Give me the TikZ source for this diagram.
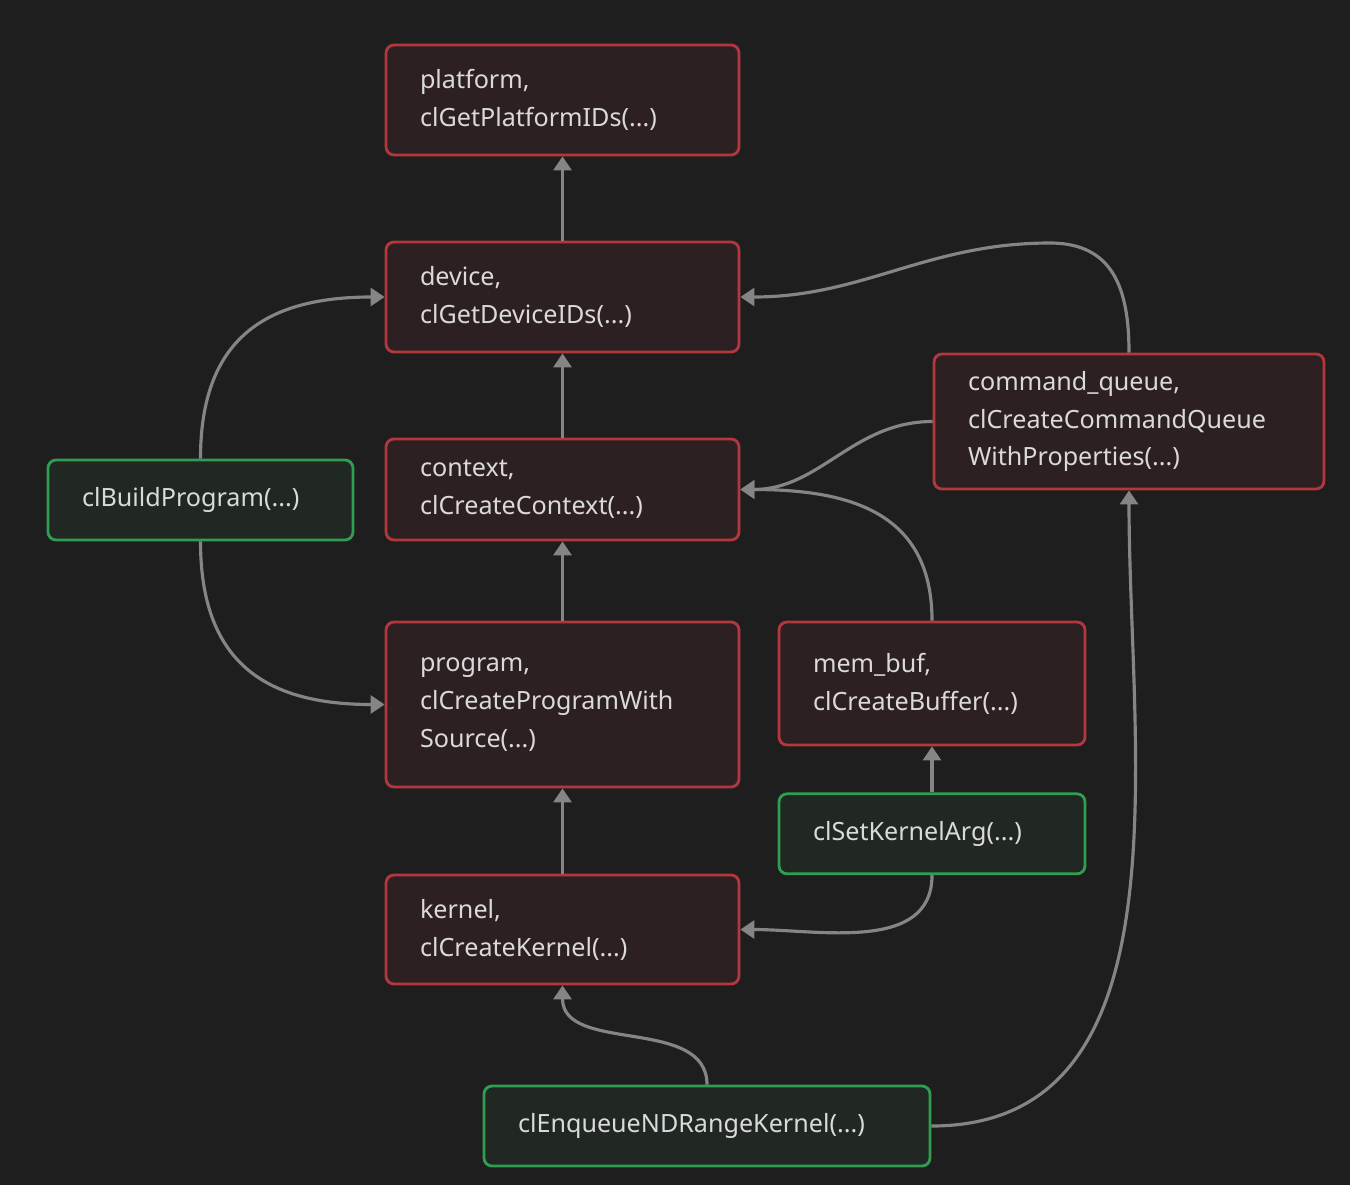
\documentclass[tikz,border=0pt]{standalone}
\usepackage{fontspec}
\setmainfont{Noto Sans}
\usetikzlibrary{positioning,arrows.meta}
\definecolor{canvasBg}{HTML}{1E1E1E}
\definecolor{objFill}{HTML}{2D2022}
\definecolor{objLine}{HTML}{B5373D}
\definecolor{callFill}{HTML}{212823}
\definecolor{callLine}{HTML}{2F9E50}
\definecolor{labelText}{HTML}{DADADA}
\definecolor{linkGray}{HTML}{858585}

\begin{document}
\begin{tikzpicture}[
  >={Triangle[length=2.8mm,width=3.6mm]},
  %% Node styles
  objbox/.style={
    rectangle, rounded corners=1.6mm, draw=objLine, fill=objFill,
    line width=1.6pt, text=labelText, align=left,
    inner xsep=6.8mm, inner ysep=0pt,
    font=\fontsize{14.3}{21.6}\selectfont
  },
  callbox/.style={
    objbox, draw=callLine, fill=callFill
  },
  %% Arrow styles
  link/.style={->, line width=1.8pt, color=linkGray},
]

\useasboundingbox[fill=canvasBg] (0,0) rectangle (27,-23.7);

%% ── Object chain ───────────────────────────────────────────────────────────
\node[objbox, text width=5.7cm, minimum height=2.2cm] at (11.25,-2.0) (platform)
  {platform,\\clGetPlatformIDs(...)};
\node[objbox, text width=5.7cm, minimum height=2.2cm] at (11.25,-5.94) (device)
  {device,\\clGetDeviceIDs(...)};
\node[objbox, text width=5.7cm, minimum height=2.02cm] at (11.25,-9.79) (context)
  {context,\\clCreateContext(...)};
\node[objbox, text width=5.7cm, minimum height=3.3cm] at (11.25,-14.09) (program)
  {program,\\clCreateProgramWith\\Source(...)};
\node[objbox, text width=5.7cm, minimum height=2.18cm] at (11.25,-18.59) (kernel)
  {kernel,\\clCreateKernel(...)};

%% ── Side objects ───────────────────────────────────────────────────────────
\node[objbox, text width=6.44cm, minimum height=2.7cm] at (22.58,-8.43) (cmdq)
  {command\_queue,\\clCreateCommandQueue\\WithProperties(...)};
\node[objbox, text width=4.76cm, minimum height=2.46cm] at (18.64,-13.67) (membuf)
  {mem\_buf,\\clCreateBuffer(...)};

%% ── Calls ──────────────────────────────────────────────────────────────────
\node[callbox, text width=4.76cm, minimum height=1.6cm, below=0.92cm of membuf] (setarg)
  {clSetKernelArg(...)};
\node[callbox, text width=4.74cm, minimum height=1.6cm] at (4.01,-10.0) (build)
  {clBuildProgram(...)};
\node[callbox, text width=7.56cm, minimum height=1.6cm] at (14.14,-22.52) (enqueue)
  {clEnqueueNDRangeKernel(...)};

%% ── Straight links ─────────────────────────────────────────────────────────
\draw[link] (device)  -- (platform);
\draw[link] (context) -- (device);
\draw[link] (program) -- (context);
\draw[link] (kernel)  -- (program);
\draw[link] (setarg)  -- (membuf);

%% ── Curved links ───────────────────────────────────────────────────────────
\draw[link] (build.north) to[out=90,in=180,looseness=1.25] (device.west);
\draw[link] (build.south) to[out=-90,in=180,looseness=1.25] (program.west);
\draw[link] (cmdq.north) to[out=90,in=0,looseness=1.2] (21.0,-4.86) to[out=180,in=0] (device.east);
\draw[link] (cmdq.west) to[out=180,in=0] (context.east);
\draw[link] (membuf.north) to[out=90,in=0,looseness=1.2] (context.east);
\draw[link] (setarg.south) to[out=-90,in=0] (kernel.east);
\draw[link] (enqueue.north) to[out=90,in=-90] (kernel.south);
\draw[link] (enqueue.east) to[out=0,in=-90] (cmdq.south);

\end{tikzpicture}
\end{document}
